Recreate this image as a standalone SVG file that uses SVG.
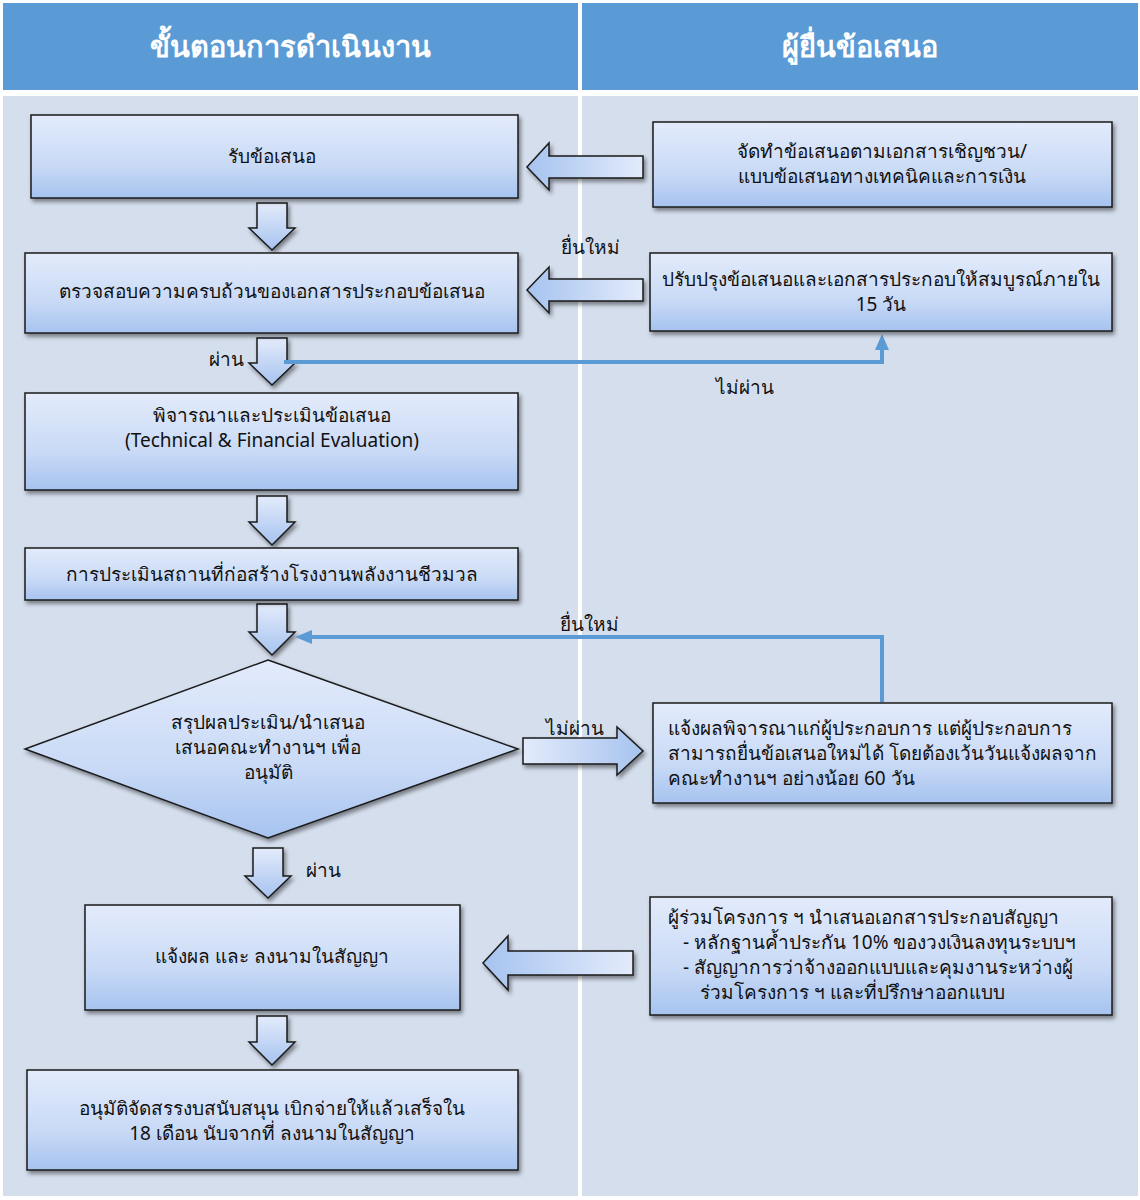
<svg xmlns="http://www.w3.org/2000/svg" width="1140" height="1200" viewBox="0 0 1140 1200">
<defs>
<linearGradient id="gBox" x1="0" y1="0" x2="0" y2="1">
<stop offset="0" stop-color="#e3ebfb"/><stop offset="0.6" stop-color="#c9daf6"/><stop offset="1" stop-color="#a6c3ef"/>
</linearGradient>
<linearGradient id="gDown" x1="0" y1="0" x2="0" y2="1">
<stop offset="0" stop-color="#e3ebfb"/><stop offset="1" stop-color="#a6c3ef"/>
</linearGradient>
<linearGradient id="gLeft" x1="1" y1="0" x2="0" y2="0">
<stop offset="0" stop-color="#e3ebfb"/><stop offset="1" stop-color="#a6c3ef"/>
</linearGradient>
<linearGradient id="gRight" x1="0" y1="0" x2="1" y2="0">
<stop offset="0" stop-color="#e3ebfb"/><stop offset="1" stop-color="#a6c3ef"/>
</linearGradient>
<filter id="sh" x="-10%" y="-10%" width="130%" height="140%">
<feDropShadow dx="2" dy="3" stdDeviation="2" flood-color="#000" flood-opacity="0.45"/>
</filter>
</defs>
<style>
.box{fill:url(#gBox);stroke:#1a1a1a;stroke-width:1.5;filter:url(#sh)}
.ad{fill:url(#gDown);stroke:#1a1a1a;stroke-width:1.5;filter:url(#sh)}
.al{fill:url(#gLeft);stroke:#1a1a1a;stroke-width:1.5;filter:url(#sh)}
.ar{fill:url(#gRight);stroke:#1a1a1a;stroke-width:1.5;filter:url(#sh)}
text{font-family:"Noto Sans","Liberation Sans",sans-serif;font-size:19px;fill:#111}
.c{text-anchor:middle}
.hd{font-size:29px;font-weight:bold;fill:#fff;text-anchor:middle}
.ln{fill:none;stroke:#5b9bd5;stroke-width:4}
.hh{fill:#5b9bd5}
</style>
<rect x="0" y="0" width="1140" height="1200" fill="#ffffff"/>
<rect x="3" y="3" width="575" height="87" fill="#5b9bd5"/>
<rect x="582" y="3" width="556" height="87" fill="#5b9bd5"/>
<rect x="3" y="96" width="575" height="1100" fill="#d5deed"/>
<rect x="582" y="96" width="556" height="1100" fill="#d5deed"/>
<text class="hd" x="290" y="57">ขั้นตอนการดำเนินงาน</text>
<text class="hd" x="860" y="57">ผู้ยื่นข้อเสนอ</text>

<g id="connectors">
<path class="al" d="M643,156 V178 H549 V190 L527,167 L549,143 V156 Z"/>
<path class="al" d="M643,279 V301 H549 V313 L527,290 L549,267 V279 Z"/>
<path class="ad" d="M257,203 H287 V228 H295 L272,250 L249,228 H257 Z"/>
<path class="ad" d="M257,338 H287 V363 H295 L272,385 L249,363 H257 Z"/>
<path class="ad" d="M257,496 H287 V522 H295 L272,545 L249,522 H257 Z"/>
<path class="ad" d="M257,604 H287 V632 H295 L272,655 L249,632 H257 Z"/>
<path class="ad" d="M253,848 H283 V876 H291 L268,898 L245,876 H253 Z"/>
<path class="ad" d="M257,1016 H287 V1042 H295 L272,1065 L249,1042 H257 Z"/>
<path class="ar" d="M523,738 H617 V727 L643,751 L617,775 V764 H523 Z"/>
<path class="al" d="M633,951 V975 H508 V990 L483,963 L508,936 V951 Z"/>
<polyline class="ln" points="284,362 882,362 882,348"/>
<polygon class="hh" points="882,334 889,350 875,350"/>
<polyline class="ln" points="882,702 882,637 310,637"/>
<polygon class="hh" points="295,637 312,630 312,644"/>
<text class="c" x="590" y="254">ยื่นใหม่</text>
<text class="c" x="226" y="366">ผ่าน</text>
<text class="c" x="745" y="394">ไม่ผ่าน</text>
<text class="c" x="589" y="631">ยื่นใหม่</text>
<text class="c" x="575" y="735">ไม่ผ่าน</text>
<text class="c" x="323" y="877">ผ่าน</text>
</g>

<g id="n1"><rect class="box" x="31" y="115" width="487" height="83"/><text class="c" x="272" y="163">รับข้อเสนอ</text></g>
<g id="n2"><rect class="box" x="25" y="253" width="493" height="80"/><text class="c" x="272" y="298">ตรวจสอบความครบถ้วนของเอกสารประกอบข้อเสนอ</text></g>
<g id="n3"><rect class="box" x="25" y="393" width="493" height="97"/><text class="c" x="272" y="422">พิจารณาและประเมินข้อเสนอ</text><text class="c" x="272" y="447">(Technical &amp; Financial Evaluation)</text></g>
<g id="n4"><rect class="box" x="25" y="548" width="493" height="52"/><text class="c" x="272" y="581">การประเมินสถานที่ก่อสร้างโรงงานพลังงานชีวมวล</text></g>
<g id="n5"><path class="box" d="M268,660 L518,749 L268,838 L25,749 Z"/><text class="c" x="268" y="729">สรุปผลประเมิน/นำเสนอ</text><text class="c" x="268" y="754">เสนอคณะทำงานฯ เพื่อ</text><text class="c" x="268" y="779">อนุมัติ</text></g>
<g id="n6"><rect class="box" x="85" y="905" width="375" height="105"/><text class="c" x="272" y="963">แจ้งผล  และ ลงนามในสัญญา</text></g>
<g id="n7"><rect class="box" x="27" y="1070" width="491" height="100"/><text class="c" x="272" y="1115">อนุมัติจัดสรรงบสนับสนุน เบิกจ่ายให้แล้วเสร็จใน</text><text class="c" x="272" y="1140">18 เดือน นับจากที่ ลงนามในสัญญา</text></g>

<g id="r1"><rect class="box" x="653" y="122" width="459" height="85"/><text class="c" x="882" y="158">จัดทำข้อเสนอตามเอกสารเชิญชวน/</text><text class="c" x="882" y="183">แบบข้อเสนอทางเทคนิคและการเงิน</text></g>
<g id="r2"><rect class="box" x="650" y="253" width="462" height="78"/><text class="c" x="881" y="286">ปรับปรุงข้อเสนอและเอกสารประกอบให้สมบูรณ์ภายใน</text><text class="c" x="881" y="311">15 วัน</text></g>
<g id="r3"><rect class="box" x="653" y="703" width="459" height="100"/><text x="668" y="735">แจ้งผลพิจารณาแก่ผู้ประกอบการ แต่ผู้ประกอบการ</text><text x="668" y="760">สามารถยื่นข้อเสนอใหม่ได้ โดยต้องเว้นวันแจ้งผลจาก</text><text x="668" y="785">คณะทำงานฯ อย่างน้อย 60 วัน</text></g>
<g id="r4"><rect class="box" x="650" y="897" width="462" height="118"/><text x="668" y="924">ผู้ร่วมโครงการ ฯ นำเสนอเอกสารประกอบสัญญา</text><text x="683" y="949">-  หลักฐานค้ำประกัน 10% ของวงเงินลงทุนระบบฯ</text><text x="683" y="974">-  สัญญาการว่าจ้างออกแบบและคุมงานระหว่างผู้</text><text x="700" y="999">ร่วมโครงการ ฯ และที่ปรึกษาออกแบบ</text></g>
</svg>
